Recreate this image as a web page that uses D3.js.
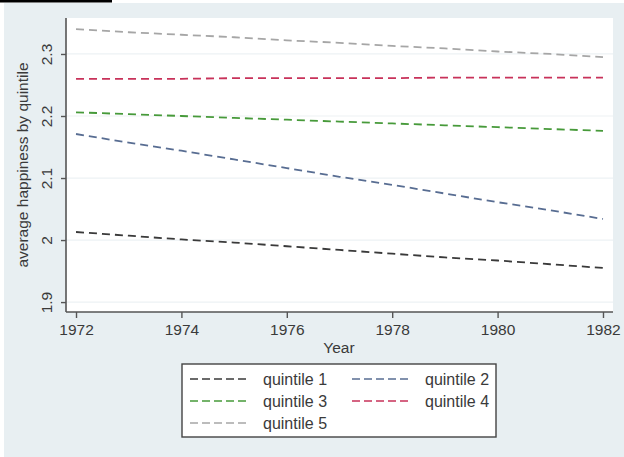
<!DOCTYPE html>
<html>
<head>
<meta charset="utf-8">
<script src="https://cdn.jsdelivr.net/npm/d3@7"></script>
<style>
  body { margin: 0; background: #fff; }
  svg { display: block; font-family: "Liberation Sans", Arial, sans-serif; }
</style>
</head>
<body>
<div id="chart"></div>
<script>
// data
var years = [1972, 1973, 1974, 1975, 1976, 1977, 1978, 1979, 1980, 1981, 1982];
var quintile1 = [2.013, 2.007, 2.001, 1.996, 1.990, 1.984, 1.978, 1.972, 1.967, 1.961, 1.955];
var quintile2 = [2.171, 2.157, 2.144, 2.130, 2.116, 2.102, 2.089, 2.075, 2.061, 2.048, 2.034];
var quintile3 = [2.206, 2.203, 2.200, 2.197, 2.194, 2.191, 2.188, 2.185, 2.182, 2.179, 2.176];
var quintile4 = [2.260, 2.260, 2.260, 2.261, 2.261, 2.261, 2.261, 2.262, 2.262, 2.262, 2.262];
var quintile5 = [2.340, 2.335, 2.331, 2.327, 2.322, 2.318, 2.313, 2.309, 2.304, 2.300, 2.295];
var seriesNames = ["quintile 1", "quintile 2", "quintile 3", "quintile 4", "quintile 5"];
var yTicks = [1.9, 2, 2.1, 2.2, 2.3];
var xTicks = [1972, 1974, 1976, 1978, 1980, 1982];

var allSeries = [quintile1, quintile2, quintile3, quintile4, quintile5];
var colors = ["#3a3a3a", "#586d92", "#479a3a", "#c8325a", "#a6a6a6"];

var width = 624, height = 457;
// plot box (note: "top" is reserved on window, so use other names)
var plotL = 66, plotR = 613, plotT = 18, plotB = 312;

var svg = d3.select("#chart").append("svg")
    .attr("width", width)
    .attr("height", height);

// outer bluish background + black bar at top
svg.append("rect").attr("x", 4).attr("y", 3).attr("width", width - 4).attr("height", height - 3)
    .attr("fill", "#e8eff2");
svg.append("rect").attr("x", 0).attr("y", 0).attr("width", 112).attr("height", 2.5)
    .attr("fill", "#000");

// plot region
svg.append("rect").attr("x", plotL).attr("y", plotT).attr("width", plotR - plotL).attr("height", plotB - plotT)
    .attr("fill", "#fff");

var x = d3.scaleLinear().domain([1971.81, 1982.19]).range([plotL, plotR]);
var y = d3.scaleLinear().domain([1.884, 2.358]).range([plotB, plotT]);

// grid lines
svg.append("g").selectAll("line")
    .data(yTicks)
    .enter().append("line")
    .attr("x1", plotL).attr("x2", plotR)
    .attr("y1", d => y(d)).attr("y2", d => y(d))
    .attr("stroke", "#edf2f4").attr("stroke-width", 1.2);

// axes
var xAxis = svg.append("g")
    .attr("transform", "translate(0," + plotB + ")")
    .call(d3.axisBottom(x).tickValues(xTicks).tickFormat(d3.format("d")).tickSize(6).tickPadding(6));
var yAxis = svg.append("g")
    .attr("transform", "translate(" + plotL + ",0)")
    .call(d3.axisLeft(y).tickValues(yTicks).tickFormat(d => d === 2 ? "2" : d3.format(".1f")(d)).tickSize(5));

[xAxis, yAxis].forEach(function (a) {
    a.select(".domain").attr("stroke", "#555").attr("stroke-width", 1.6);
    a.selectAll(".tick line").attr("stroke", "#555").attr("stroke-width", 1.4);
    a.selectAll("text").attr("fill", "#3a3a3a").style("font-size", "15.5px");
});
xAxis.select(".domain").attr("d", "M" + plotL + ",0H" + plotR);
yAxis.select(".domain").attr("d", "M0," + plotT + "V" + plotB);

// rotated y tick labels
yAxis.selectAll(".tick text")
    .attr("x", null)
    .attr("text-anchor", "middle")
    .attr("transform", "translate(-19,0) rotate(-90)")
    .attr("y", 0)
    .attr("dy", "0.35em");

// axis titles
svg.append("text")
    .attr("x", 339).attr("y", 353)
    .attr("text-anchor", "middle")
    .attr("fill", "#3a3a3a")
    .style("font-size", "15.5px")
    .text("Year");
svg.append("text")
    .attr("transform", "translate(28," + ((plotT + plotB) / 2) + ") rotate(-90)")
    .attr("text-anchor", "middle")
    .attr("fill", "#3a3a3a")
    .style("font-size", "15.5px")
    .text("average happiness by quintile");

// lines
var line = d3.line()
    .x((d, i) => x(years[i]))
    .y(d => y(d));

svg.append("g").selectAll("path")
    .data(allSeries)
    .enter().append("path")
    .attr("d", line)
    .attr("fill", "none")
    .attr("stroke", (d, i) => colors[i])
    .attr("stroke-width", 1.8)
    .attr("stroke-dasharray", "8,5");

// legend
var legend = svg.append("g");
legend.append("rect")
    .attr("x", 182).attr("y", 364).attr("width", 314).attr("height", 73)
    .attr("fill", "#fff").attr("stroke", "#444").attr("stroke-width", 1.4);

var keys = legend.selectAll(".key")
    .data(seriesNames)
    .enter().append("g")
    .attr("class", "key")
    .attr("transform", (d, i) => "translate(" + (i % 2 === 0 ? 190 : 352) + "," + (379 + Math.floor(i / 2) * 22) + ")");

keys.append("line")
    .attr("x1", 0).attr("x2", 60)
    .attr("y1", 0).attr("y2", 0)
    .attr("stroke", (d, i) => colors[i])
    .attr("stroke-width", 1.6)
    .attr("stroke-dasharray", "8,4");

keys.append("text")
    .attr("x", 73).attr("y", 0).attr("dy", "0.35em")
    .attr("fill", "#3a3a3a")
    .style("font-size", "16px")
    .text(d => d);
</script>
</body>
</html>
